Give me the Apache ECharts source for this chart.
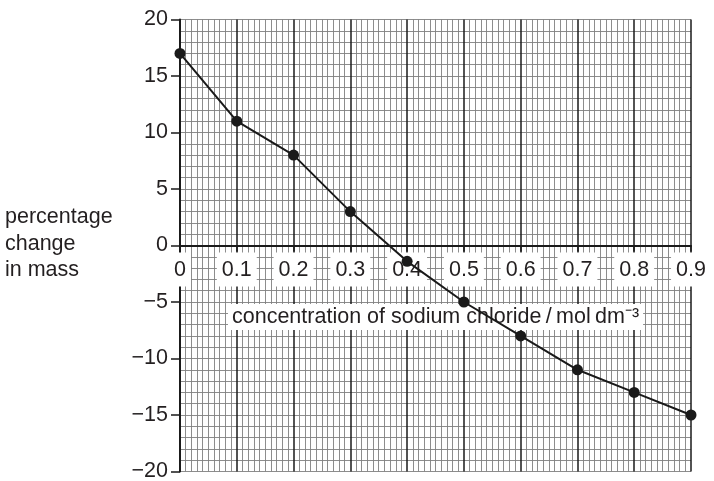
<!DOCTYPE html>
<html><head><meta charset="utf-8">
<script src="https://cdn.jsdelivr.net/npm/echarts@6/dist/echarts.min.js"></script>
<style>html,body{margin:0;padding:0;background:#fff}#c{width:714px;height:481px}</style>
</head><body><div id="c"></div>
<script>
var concentration = [0, 0.1, 0.2, 0.3, 0.4, 0.5, 0.6, 0.7, 0.8, 0.9];
var massChange = [17, 11, 8, 3, -1.4, -5, -8, -11, -13, -15];
var xTitle = 'concentration of sodium chloride\u2009/\u2009mol\u2009dm\u207B\u00B3';
var yTitle = 'percentage\nchange\nin mass';

var FONT = 'Liberation Sans';
var FS = 21.5;
var GRID_TOP = 19.5, GRID_BOTTOM = 9.5, H = 481;
var plotH = H - GRID_TOP - GRID_BOTTOM;
var chart = echarts.init(document.getElementById('c'));
chart.setOption({
  animation: false,
  backgroundColor: '#fff',
  textStyle: {fontFamily: FONT},
  grid: {left: 180, right: 23, top: GRID_TOP, bottom: GRID_BOTTOM, containLabel: false, outerBoundsMode: 'none'},
  xAxis: {
    type: 'value', min: 0, max: 0.9, interval: 0.1,
    position: 'bottom',
    offset: -plotH / 2,
    axisLine: {onZero: false, lineStyle: {color: '#1a1a1a', width: 2}},
    axisTick: {show: true, inside: false, length: 6, lineStyle: {color: '#1a1a1a', width: 1.5}},
    axisLabel: {
      fontFamily: FONT, fontSize: FS, color: '#231f20', margin: 7,
      backgroundColor: '#fff', padding: [7, 5, 5, 5],
      showMinLabel: true, showMaxLabel: true,
      formatter: function (v) { return String(Math.round(v * 10) / 10); }
    },
    splitLine: {show: true, lineStyle: {color: '#1a1a1a', width: 1.5}},
    minorTick: {show: false, splitNumber: 10},
    minorSplitLine: {show: true, lineStyle: {color: '#808080', width: 0.9}}
  },
  yAxis: {
    type: 'value', min: -20, max: 20, interval: 5,
    axisLine: {show: true, onZero: false, lineStyle: {color: '#1a1a1a', width: 2}},
    axisTick: {show: true, inside: false, length: 9, lineStyle: {color: '#1a1a1a', width: 1.5}},
    axisLabel: {
      fontFamily: FONT, fontSize: FS, color: '#231f20', margin: 12,
      formatter: function (v) { return String(v).replace('-', '\u2212'); }
    },
    splitLine: {show: true, lineStyle: {color: '#808080', width: 0.9}},
    minorTick: {show: false, splitNumber: 5},
    minorSplitLine: {show: true, lineStyle: {color: '#808080', width: 0.9}}
  },
  graphic: [
    {type: 'text', left: 5, top: 204, style: {text: yTitle, fontFamily: FONT, fontSize: FS, lineHeight: 26.5, fill: '#231f20'}},
    {type: 'text', left: 228, top: 304, z: 1, style: {text: xTitle, fontFamily: FONT, fontSize: FS, fill: '#231f20', backgroundColor: '#fff', padding: [2, 4, 2, 4]}}
  ],
  series: [{
    type: 'line',
    data: concentration.map(function (x, i) { return [x, massChange[i]]; }),
    symbol: 'circle', symbolSize: 11,
    lineStyle: {color: '#1a1a1a', width: 2},
    itemStyle: {color: '#1a1a1a'},
    z: 5
  }]
});
</script></body></html>
